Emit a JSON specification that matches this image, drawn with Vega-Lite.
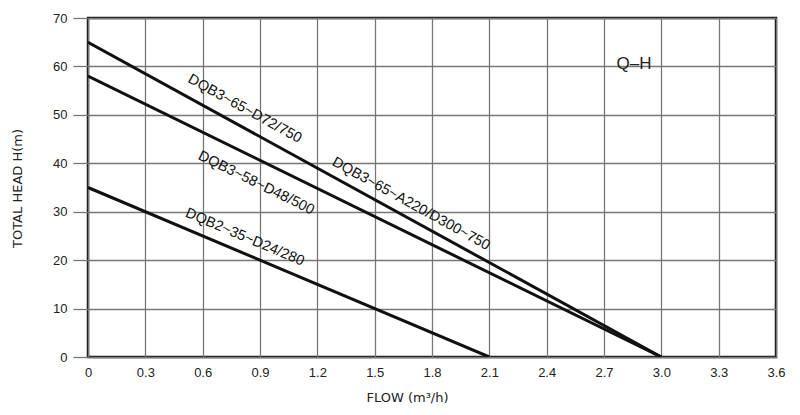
{
  "$schema": "https://vega.github.io/schema/vega-lite/v6.json",
  "width": 688,
  "height": 339,
  "autosize": "none",
  "padding": {"left": 88, "top": 18, "right": 24, "bottom": 58},
  "background": "white",
  "config": {
    "view": {"stroke": "#111", "strokeWidth": 2.5},
    "font": "Liberation Sans"
  },
  "datasets": {
    "curves": [
      {"model": "DQB3-65", "flow": 0, "head": 65},
      {"model": "DQB3-65", "flow": 3.0, "head": 0},
      {"model": "DQB3-58", "flow": 0, "head": 58},
      {"model": "DQB3-58", "flow": 3.0, "head": 0},
      {"model": "DQB2-35", "flow": 0, "head": 35},
      {"model": "DQB2-35", "flow": 2.1, "head": 0}
    ]
  },
  "layer": [
    {
      "data": {"name": "curves"},
      "mark": {"type": "line", "color": "#111", "strokeWidth": 3, "clip": true},
      "encoding": {
        "x": {
          "field": "flow", "type": "quantitative",
          "scale": {"domain": [0, 3.6], "nice": false, "zero": false},
          "axis": {
            "values": [0, 0.3, 0.6, 0.9, 1.2, 1.5, 1.8, 2.1, 2.4, 2.7, 3.0, 3.3, 3.6],
            "labelExpr": "datum.value == 0 ? '0' : format(datum.value, '.1f')",
            "title": "FLOW (m³/h)",
            "domain": false,
            "ticks": false,
            "labelPadding": 9,
            "labelFontSize": 13,
            "labelColor": "#222",
            "labelFlush": false,
            "grid": true,
            "gridColor": "#777",
            "gridWidth": 1.3,
            "titleFont": "DejaVu Sans",
            "titleFontSize": 13,
            "titleFontWeight": "normal",
            "titleColor": "#222",
            "titleX": 319,
            "titleY": 40,
            "titleBaseline": "middle"
          }
        },
        "y": {
          "field": "head", "type": "quantitative",
          "scale": {"domain": [0, 70], "nice": false},
          "axis": {
            "values": [0, 10, 20, 30, 40, 50, 60, 70],
            "title": "TOTAL HEAD  H(m)",
            "domain": false,
            "ticks": true,
            "tickSize": 15,
            "tickColor": "#777",
            "tickWidth": 1.3,
            "labelPadding": 6,
            "labelFontSize": 13,
            "labelColor": "#222",
            "labelFlush": false,
            "grid": true,
            "gridColor": "#777",
            "gridWidth": 1.3,
            "titleFont": "DejaVu Sans",
            "titleFontSize": 13,
            "titleFontWeight": "normal",
            "titleColor": "#222",
            "titleX": -71,
            "titleY": 170,
            "titleBaseline": "middle",
            "titleAngle": -90
          }
        },
        "detail": {"field": "model"}
      }
    },
    {
      "data": {"values": [{"flow": 0.82, "head": 51.2, "label": "DQB3~65~D72/750"}, {"flow": 1.69, "head": 31.6, "label": "DQB3~65~A220/D300~750"}]},
      "mark": {"type": "text", "angle": 28.8, "fontSize": 14.5, "color": "#111", "align": "center", "baseline": "middle"},
      "encoding": {
        "x": {"field": "flow", "type": "quantitative"},
        "y": {"field": "head", "type": "quantitative"},
        "text": {"field": "label"}
      }
    },
    {
      "data": {"values": [{"flow": 0.88, "head": 35.9, "label": "DQB3~58~D48/500"}]},
      "mark": {"type": "text", "angle": 26.1, "fontSize": 14.5, "color": "#111", "align": "center", "baseline": "middle"},
      "encoding": {
        "x": {"field": "flow", "type": "quantitative"},
        "y": {"field": "head", "type": "quantitative"},
        "text": {"field": "label"}
      }
    },
    {
      "data": {"values": [{"flow": 0.82, "head": 24.7, "label": "DQB2~35~D24/280"}]},
      "mark": {"type": "text", "angle": 22.9, "fontSize": 14.5, "color": "#111", "align": "center", "baseline": "middle"},
      "encoding": {
        "x": {"field": "flow", "type": "quantitative"},
        "y": {"field": "head", "type": "quantitative"},
        "text": {"field": "label"}
      }
    },
    {
      "data": {"values": [{"flow": 2.857, "head": 60.5, "label": "Q–H"}]},
      "mark": {"type": "text", "fontSize": 17, "color": "#222", "align": "center", "baseline": "middle"},
      "encoding": {
        "x": {"field": "flow", "type": "quantitative"},
        "y": {"field": "head", "type": "quantitative"},
        "text": {"field": "label"}
      }
    }
  ]
}
